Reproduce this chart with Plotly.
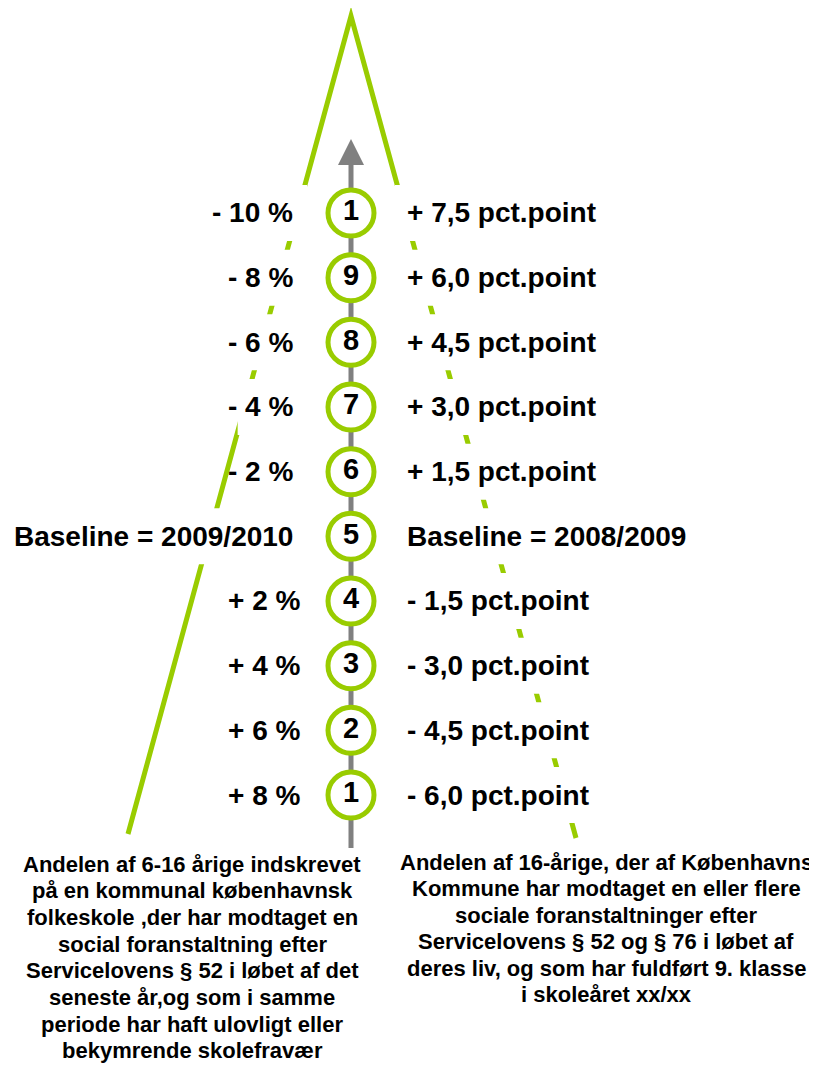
import plotly.graph_objects as go

# ---------------- data ----------------
levels = ["1", "2", "3", "4", "5", "6", "7", "8", "9", "1"]          # bottom -> top
left_labels = ["+ 8 %", "+ 6 %", "+ 4 %", "+ 2 %", "Baseline = 2009/2010",
               "- 2 %", "- 4 %", "- 6 %", "- 8 %", "- 10 %"]
right_labels = ["- 6,0 pct.point", "- 4,5 pct.point", "- 3,0 pct.point", "- 1,5 pct.point",
                "Baseline = 2008/2009", "+ 1,5 pct.point", "+ 3,0 pct.point",
                "+ 4,5 pct.point", "+ 6,0 pct.point", "+ 7,5 pct.point"]
left_caption = ["Andelen af 6-16 årige indskrevet",
                "på en kommunal københavnsk",
                "folkeskole ,der har modtaget en",
                "social foranstaltning efter",
                "Servicelovens § 52 i løbet af det",
                "seneste år,og som i samme",
                "periode har haft ulovligt eller",
                "bekymrende skolefravær"]
right_caption = ["Andelen af 16-årige, der af Københavns",
                 "Kommune har modtaget en eller flere",
                 "sociale foranstaltninger efter",
                 "Servicelovens § 52 og § 76 i løbet af",
                 "deres liv, og som har fuldført 9. klasse",
                 "i skoleåret xx/xx"]
baseline_index = 4

# ---------------- geometry helpers (page pixels -> data units) ----------------
PAGE_W, PAGE_H = 817, 1091
OFF = 8                       # default body margin of the html page
FIG_W, FIG_H = PAGE_W - OFF, PAGE_H - OFF
STEP = 64.67                  # px per row
CX, BOTTOM_ROW = 351, 795


def X(px):
    return (px - CX) / STEP


def Y(py):
    return (BOTTOM_ROW - py) / STEP


GREEN = "#99CC00"
GRAY = "#808080"
FONT = "Liberation Sans, Arial, Helvetica, sans-serif"
LABEL_SIZE = 28
CAP_SIZE = 22

# approximate Arial Bold advance widths (em)
AW = {'-': .333, ' ': .278, '%': .889, '+': .584, ',': .278, '/': .278, '=': .584,
      'B': .722, 'a': .556, 's': .556, 'e': .556, 'l': .278, 'i': .278, 'n': .611,
      'p': .611, 'c': .556, 't': .333, '.': .278, 'o': .611}


def text_w(s, size):
    return sum(AW.get(ch, .556) for ch in s) * size


rows = list(range(len(levels)))
left_anchor = [302 if i < baseline_index else 295 for i in rows]
RIGHT_ANCHOR = 405

shapes = []
# green "A" guide lines
apex = (X(351), Y(16))
lend = (X(128), Y(834))
rend = (X(576), Y(838))
shapes.append(dict(type="path", layer="below", xref="x", yref="y",
                   path=f"M {lend[0]},{lend[1]} L {apex[0]},{apex[1]} L {rend[0]},{rend[1]}",
                   line=dict(color=GREEN, width=5)))
# white text boxes that hide the guide lines behind labels
half = 28 / STEP
for i, lab in zip(rows, left_labels):
    x0 = left_anchor[i] - text_w(lab, LABEL_SIZE) + 8
    shapes.append(dict(type="rect", layer="below", xref="x", yref="y",
                       x0=X(x0), x1=X(307), y0=i - half, y1=i + half,
                       fillcolor="white", line=dict(width=0)))
for i, lab in zip(rows, right_labels):
    shapes.append(dict(type="rect", layer="below", xref="x", yref="y",
                       x0=X(395), x1=X(720), y0=i - half, y1=i + half,
                       fillcolor="white", line=dict(width=0)))
# gray axis with arrow head
shapes.append(dict(type="line", layer="below", xref="x", yref="y",
                   x0=0, x1=0, y0=Y(848), y1=Y(162), line=dict(color=GRAY, width=5)))
shapes.append(dict(type="path", layer="below", xref="x", yref="y",
                   path=f"M {X(338)},{Y(165)} L {X(351)},{Y(139)} L {X(364)},{Y(165)} Z",
                   fillcolor=GRAY, line=dict(color=GRAY, width=0)))

fig = go.Figure()
fig.add_trace(go.Scatter(
    x=[0] * len(levels), y=rows, mode="markers+text", text=levels,
    textposition="middle center",
    textfont=dict(family=FONT, size=29, color="black", weight="bold"),
    marker=dict(symbol="circle", size=46, color="white", line=dict(color=GREEN, width=5)),
    hoverinfo="skip", showlegend=False))

annotations = []
for i, lab in zip(rows, left_labels):
    annotations.append(dict(x=X(left_anchor[i]), y=i, xref="x", yref="y", text=lab,
                            showarrow=False, xanchor="right", yanchor="middle",
                            font=dict(family=FONT, size=LABEL_SIZE, color="black", weight="bold")))
for i, lab in zip(rows, right_labels):
    annotations.append(dict(x=X(RIGHT_ANCHOR), y=i, xref="x", yref="y", text=lab,
                            showarrow=False, xanchor="left", yanchor="middle",
                            font=dict(family=FONT, size=LABEL_SIZE, color="black", weight="bold")))
for k, line in enumerate(left_caption):
    annotations.append(dict(x=X(192), y=Y(864 + 26.7 * k), xref="x", yref="y", text=line,
                            showarrow=False, xanchor="center", yanchor="middle",
                            font=dict(family=FONT, size=CAP_SIZE, color="black", weight="bold")))
for k, line in enumerate(right_caption):
    annotations.append(dict(x=X(606), y=Y(862 + 26.5 * k), xref="x", yref="y", text=line,
                            showarrow=False, xanchor="center", yanchor="middle",
                            font=dict(family=FONT, size=CAP_SIZE, color="black", weight="bold")))

fig.update_layout(
    width=FIG_W, height=FIG_H, margin=dict(l=0, r=0, t=0, b=0),
    paper_bgcolor="white", plot_bgcolor="white",
    xaxis=dict(range=[X(OFF), X(OFF + FIG_W)], visible=False, fixedrange=True),
    yaxis=dict(range=[Y(OFF + FIG_H), Y(OFF)], visible=False, fixedrange=True),
    shapes=shapes, annotations=annotations, showlegend=False,
)

fig.write_html("out.html")
